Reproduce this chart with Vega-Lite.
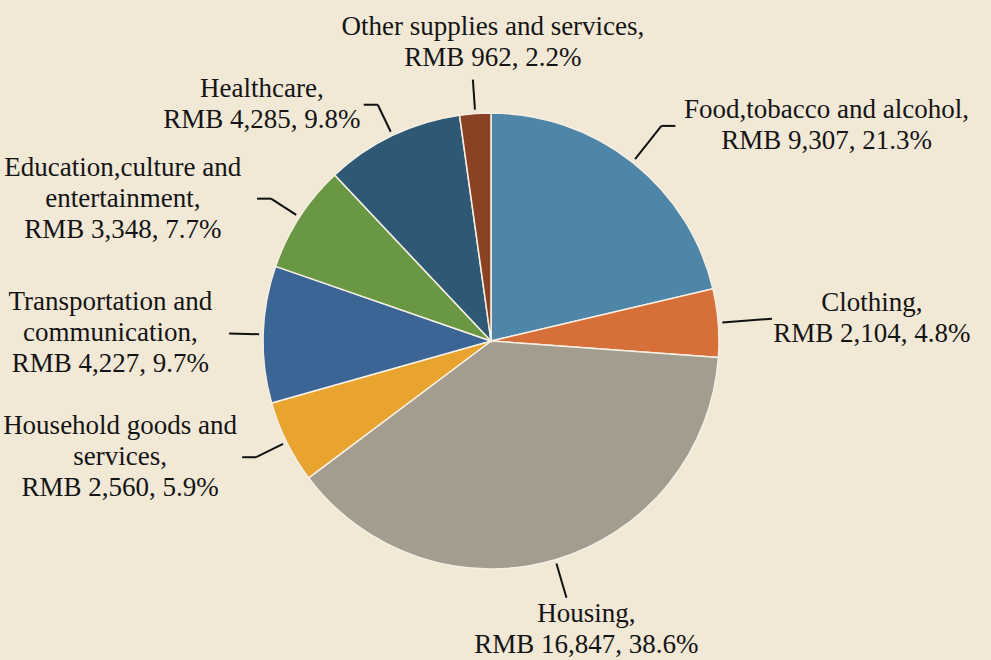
{
  "$schema": "https://vega.github.io/schema/vega-lite/v6.json",
  "width": 991,
  "height": 660,
  "padding": 0,
  "autosize": {"type": "none"},
  "background": "#F1E8D6",
  "config": {"view": {"stroke": null}, "font": "Liberation Serif"},
  "data": {
    "values": [
      {"category": "Food,tobacco and alcohol", "value": 9307},
      {"category": "Clothing", "value": 2104},
      {"category": "Housing", "value": 16847},
      {"category": "Household goods and\nservices", "value": 2560},
      {"category": "Transportation and\ncommunication", "value": 4227},
      {"category": "Education,culture and\nentertainment", "value": 3348},
      {"category": "Healthcare", "value": 4285},
      {"category": "Other supplies and services", "value": 962}
    ]
  },
  "transform": [
    {"joinaggregate": [{"op": "sum", "field": "value", "as": "total"}]},
    {"window": [{"op": "sum", "field": "value", "as": "cum"}], "frame": [null, 0]},
    {"calculate": "2*PI*(datum.cum-datum.value)/datum.total", "as": "a0"},
    {"calculate": "2*PI*datum.cum/datum.total", "as": "a1"},
    {"calculate": "(datum.a0+datum.a1)/2", "as": "am"},
    {"calculate": "sin(datum.am)", "as": "sx"},
    {"calculate": "-cos(datum.am)", "as": "sy"},
    {"calculate": "262 + 20*max(0, datum.sx)", "as": "r2"},
    {"calculate": "232*datum.sx", "as": "x1"},
    {"calculate": "232*datum.sy", "as": "y1"},
    {"calculate": "datum.r2*datum.sx", "as": "x2"},
    {"calculate": "datum.r2*datum.sy", "as": "y2"},
    {"calculate": "abs(datum.sx)>0.3 && abs(datum.sy)>0.3 ? 14 : 0", "as": "hook"},
    {"calculate": "datum.x2 + (datum.sx>0?1:-1)*datum.hook", "as": "x3"},
    {"calculate": "datum.y2", "as": "y3"},
    {"calculate": "datum.category + ',\\n' + 'RMB ' + format(datum.value, ',') + ', ' + format(datum.value/datum.total, '.1%')", "as": "label"},
    {"calculate": "split(datum.label, '\\n')", "as": "lines"},
    {"calculate": "length(datum.lines)", "as": "n"},
    {"calculate": "27*(0.45*length(datum.lines[0]) + 0.3*length(replace(datum.lines[0], regexp('[^A-Z%]','g'), '')) - 0.2*length(replace(datum.lines[0], regexp('[^ ,.]','g'), '')))", "as": "w0"},
    {"calculate": "27*(0.45*length(datum.lines[1]) + 0.3*length(replace(datum.lines[1], regexp('[^A-Z%]','g'), '')) - 0.2*length(replace(datum.lines[1], regexp('[^ ,.]','g'), '')))", "as": "w1"},
    {"calculate": "datum.n > 2 ? 27*(0.45*length(datum.lines[2]) + 0.3*length(replace(datum.lines[2], regexp('[^A-Z%]','g'), '')) - 0.2*length(replace(datum.lines[2], regexp('[^ ,.]','g'), ''))) : 0", "as": "w2"},
    {"calculate": "max(datum.w0, datum.w1, datum.w2)", "as": "w"},
    {"calculate": "datum.sx>0.3 ? datum.x3+6+datum.w/2 : (datum.sx<-0.3 ? datum.x3-8-datum.w/2 : datum.x3+20)", "as": "lx"},
    {"calculate": "abs(datum.sx)>0.3 ? datum.y3-(datum.n-1)*15.5 : (datum.sy<0 ? datum.y3-22-(datum.n-1)*31 : datum.y3+16)", "as": "ly"}
  ],
  "layer": [
    {
      "mark": {"type": "arc", "outerRadius": 228, "stroke": "#F6F0E4", "strokeWidth": 1.5},
      "encoding": {
        "theta": {"field": "a0", "type": "quantitative", "scale": null},
        "theta2": {"field": "a1"},
        "x": {"datum": 0, "type": "quantitative", "scale": {"domain": [-491, 500], "nice": false, "zero": false}, "axis": null},
        "y": {"datum": 0, "type": "quantitative", "scale": {"domain": [-341, 319], "nice": false, "zero": false, "reverse": true}, "axis": null},
        "color": {
          "field": "category",
          "type": "nominal",
          "scale": {
            "domain": ["Food,tobacco and alcohol", "Clothing", "Housing", "Household goods and\nservices", "Transportation and\ncommunication", "Education,culture and\nentertainment", "Healthcare", "Other supplies and services"],
            "range": ["#4F85A6", "#D76F38", "#A39D90", "#E8A42F", "#3A6594", "#6A9743", "#2E5874", "#8A4124"]
          },
          "legend": null
        }
      }
    },
    {
      "mark": {"type": "rule", "color": "#111111", "strokeWidth": 2},
      "encoding": {
        "x": {"field": "x1", "type": "quantitative", "scale": {"domain": [-491, 500], "nice": false, "zero": false}, "axis": null},
        "y": {"field": "y1", "type": "quantitative", "scale": {"domain": [-341, 319], "nice": false, "zero": false, "reverse": true}, "axis": null},
        "x2": {"field": "x2"},
        "y2": {"field": "y2"}
      }
    },
    {
      "transform": [{"filter": "datum.hook > 0"}],
      "mark": {"type": "rule", "color": "#111111", "strokeWidth": 2},
      "encoding": {
        "x": {"field": "x2", "type": "quantitative", "scale": {"domain": [-491, 500], "nice": false, "zero": false}, "axis": null},
        "y": {"field": "y2", "type": "quantitative", "scale": {"domain": [-341, 319], "nice": false, "zero": false, "reverse": true}, "axis": null},
        "x2": {"field": "x3"},
        "y2": {"field": "y3"}
      }
    },
    {
      "mark": {"type": "text", "font": "Liberation Serif", "fontSize": 27, "lineHeight": 31, "lineBreak": "\n", "align": "center", "baseline": "middle", "color": "#141414"},
      "encoding": {
        "x": {"field": "lx", "type": "quantitative", "scale": {"domain": [-491, 500], "nice": false, "zero": false}, "axis": null},
        "y": {"field": "ly", "type": "quantitative", "scale": {"domain": [-341, 319], "nice": false, "zero": false, "reverse": true}, "axis": null},
        "text": {"field": "label", "type": "nominal"}
      }
    }
  ]
}
